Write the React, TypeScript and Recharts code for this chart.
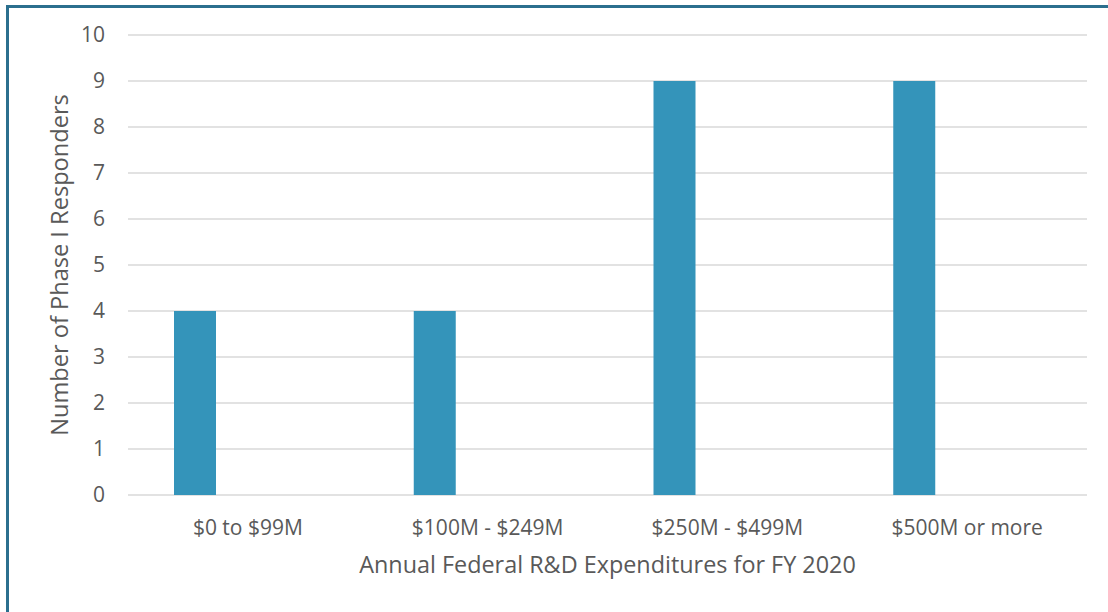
import { BarChart, Bar, XAxis, YAxis, CartesianGrid, Label } from 'recharts';

const categories = ['$0 to $99M', '$100M - $249M', '$250M - $499M', '$500M or more'];
const responders = [4, 4, 9, 9];
// empty second series (keeps the bars pushed left like the original)
const emptySeries = [0, 0, 0, 0];
const yTicks = [0, 1, 2, 3, 4, 5, 6, 7, 8, 9, 10];

const data = categories.map((name, i) => ({
  name,
  responders: responders[i],
  empty: emptySeries[i],
}));

const textColor = '#595959';
const font = '"Open Sans", sans-serif';

export default function App() {
  return (
    <div
      style={{
        position: 'absolute',
        left: 6,
        top: 5,
        width: 1099,
        height: 604,
        borderTop: '3px solid #2b6f8e',
        borderLeft: '3px solid #2b6f8e',
        background: '#fff',
        fontFamily: font,
      }}
    >
      <BarChart
        width={1099}
        height={604}
        data={data}
        margin={{ top: 27, right: 21, left: 0, bottom: 0 }}
        barGap={0}
      >
        <CartesianGrid vertical={false} stroke="#d9d9d9" strokeWidth={1.5} />
        <XAxis
          dataKey="name"
          axisLine={false}
          tickLine={false}
          height={117}
          tickMargin={19}
          tick={{ fill: textColor, fontSize: 21, fontFamily: font }}
        >
          <Label
            content={(props: any) => {
              const vb = props.viewBox || { x: 0, y: 0, width: 0, height: 0 };
              return (
                <text
                  x={vb.x + vb.width / 2}
                  y={565}
                  textAnchor="middle"
                  fill={textColor}
                  fontSize={23.4}
                  fontFamily={font}
                >
                  Annual Federal R&amp;D Expenditures for FY 2020
                </text>
              );
            }}
          />
        </XAxis>
        <YAxis
          domain={[0, 10]}
          ticks={yTicks}
          interval={0}
          axisLine={false}
          tickLine={false}
          width={119}
          tickMargin={17}
          tick={{ fill: textColor, fontSize: 21, fontFamily: font }}
        >
          <Label
            content={(props: any) => {
              const vb = props.viewBox || { x: 0, y: 0, width: 0, height: 0 };
              const cx = vb.x + 59;
              const cy = vb.y + vb.height / 2;
              return (
                <text
                  x={cx}
                  y={cy}
                  transform={`rotate(-90, ${cx}, ${cy})`}
                  textAnchor="middle"
                  fill={textColor}
                  fontSize={23.6}
                  fontFamily={font}
                >
                  Number of Phase I Responders
                </text>
              );
            }}
          />
        </YAxis>
        <Bar dataKey="responders" fill="#3494ba" barSize={42} isAnimationActive={false} />
        <Bar dataKey="empty" fill="#3494ba" barSize={106} isAnimationActive={false} />
      </BarChart>
    </div>
  );
}
